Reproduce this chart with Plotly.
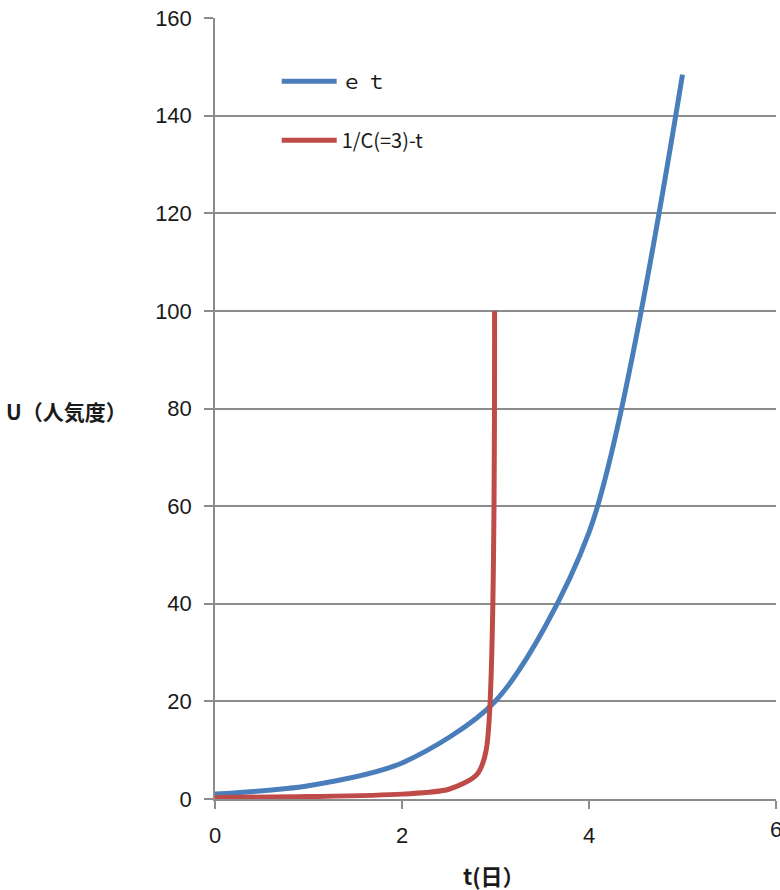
import plotly.graph_objects as go

# Growth curves: exponential vs. hyperbolic blow-up at C = 3
t_exp = [0, 1, 2, 3, 4, 5]
u_exp = [1.0, 2.72, 7.39, 20.09, 54.6, 148.4]

t_hyp = [0, 1, 2, 2.5, 2.8, 2.9, 2.99]
u_hyp = [0.33, 0.5, 1.0, 2.0, 5.0, 10.0, 100.0]

names = ["ｅ ｔ", "1/C(=3)-t"]
colors = ["#4A7EBB", "#BE4B48"]

x_ticks = [0, 2, 4]
x_last = 6
y_ticks = [0, 20, 40, 60, 80, 100, 120, 140, 160]

tick_font = dict(family="Liberation Sans, Arial, sans-serif", size=22, color="#1a1a1a")
grid_col = "#8C8C8C"

fig = go.Figure()
for i, (xs, ys) in enumerate([(t_exp, u_exp), (t_hyp, u_hyp)]):
    fig.add_trace(go.Scatter(
        x=xs, y=ys, mode="lines", name=names[i],
        line=dict(color=colors[i], width=5, shape="spline", smoothing=0.8),
        legendgroup=f"g{i}",
    ))

fig.update_layout(
    width=780, height=890,
    margin=dict(l=215, r=4, t=18, b=91),
    plot_bgcolor="white", paper_bgcolor="white",
    showlegend=True,
    legend=dict(
        x=0.11, y=0.944, xanchor="left", yanchor="top",
        bgcolor="rgba(0,0,0,0)", borderwidth=0,
        font=dict(family="Noto Sans CJK JP", size=20, color="#1a1a1a"),
        tracegroupgap=30, itemwidth=55, traceorder="grouped",
    ),
    xaxis=dict(
        range=[0, 6], tickvals=x_ticks + [x_last], ticktext=[str(v) for v in x_ticks] + [""],
        showgrid=False, zeroline=False,
        showline=True, linecolor=grid_col, linewidth=1.5,
        ticks="outside", ticklen=8, tickcolor=grid_col, tickwidth=1.5,
        tickfont=tick_font, ticklabelstandoff=8,
    ),
    yaxis=dict(
        range=[0, 160], tickvals=y_ticks, ticktext=[str(v) for v in y_ticks],
        showgrid=True, gridcolor=grid_col, gridwidth=1.5, zeroline=False,
        showline=True, linecolor=grid_col, linewidth=1.5,
        ticks="outside", ticklen=9, tickcolor=grid_col, tickwidth=1.5,
        tickfont=tick_font, ticklabelstandoff=8,
    ),
)

# Label for the last x tick, which sits at the right edge of the page
fig.add_annotation(
    text=str(x_last), xref="x", yref="paper", x=x_last, y=0,
    xanchor="center", yanchor="top", yshift=-16, showarrow=False,
    font=tick_font,
)

# Axis titles
fig.add_annotation(
    text="<b>U（人気度）</b>", xref="paper", yref="paper",
    x=-0.265, y=0.497, xanchor="center", yanchor="middle", showarrow=False,
    font=dict(family="Noto Sans CJK JP", size=21, color="#1a1a1a"),
)
fig.add_annotation(
    text="<b>t(日）</b>", xref="paper", yref="paper",
    x=0.498, y=-0.097, xanchor="center", yanchor="middle", showarrow=False,
    font=dict(family="Noto Sans CJK JP", size=22, color="#1a1a1a"),
)

fig.write_html("out.html")
